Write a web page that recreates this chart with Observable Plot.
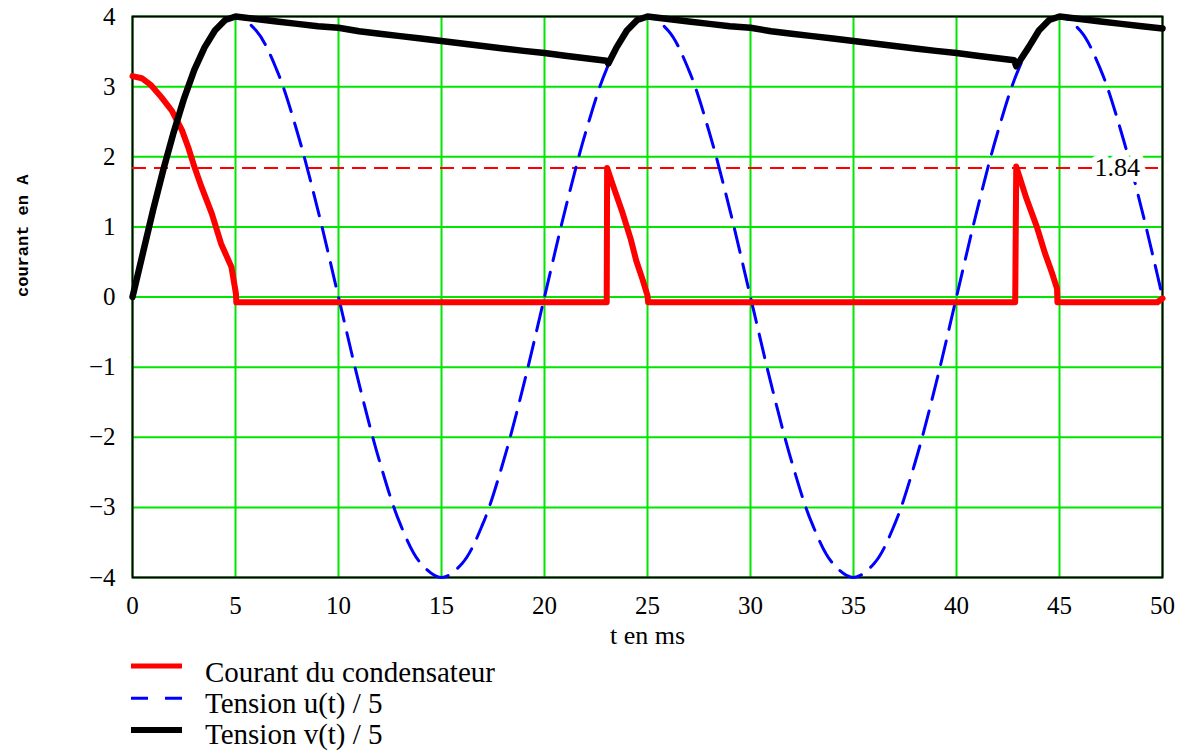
<!DOCTYPE html>
<html>
<head>
<meta charset="utf-8">
<script src="https://cdn.jsdelivr.net/npm/d3@7"></script>
<script src="https://cdn.jsdelivr.net/npm/@observablehq/plot@0.6"></script>
<style>
  body { margin: 0; background: #fff; width: 1189px; height: 753px; overflow: hidden; }
  #chart svg { display: block; font-family: 'Liberation Serif', 'Times New Roman', serif; }
  #legend { display: block; }
</style>
</head>
<body>
<div id="chart"></div>
<svg id="legend" width="1189" height="103"></svg>
<script>
// ---- data ----
const tickX = [0, 5, 10, 15, 20, 25, 30, 35, 40, 45, 50];
const tickY = [-4, -3, -2, -1, 0, 1, 2, 3, 4];

// Tension u(t) / 5 (blue dashed)
const tBlue = [0,1,2,3,4,5,6,7,8,9,10,11,12,13,14,15,16,17,18,19,20,21,22,23,24,25,26,27,28,29,30,31,32,33,34,35,36,37,38,39,40,41,42,43,44,45,46,47,48,49,50];
const uBlue = [0,1.24,2.35,3.24,3.80,4.00,3.80,3.24,2.35,1.24,0,-1.24,-2.35,-3.24,-3.80,-4.00,-3.80,-3.24,-2.35,-1.24,0,1.24,2.35,3.24,3.80,4.00,3.80,3.24,2.35,1.24,0,-1.24,-2.35,-3.24,-3.80,-4.00,-3.80,-3.24,-2.35,-1.24,0,1.24,2.35,3.24,3.80,4.00,3.80,3.24,2.35,1.24,0];

// Courant du condensateur (red)
const tRed = [0,0.45,0.9,1.4,1.9,2.4,2.7,3.0,3.35,3.85,4.3,4.8,5.02,5.04, 23.02,23.04,23.35,23.8,24.2,24.45,24.77,25.0,25.03, 42.85,42.9,43.4,43.9,44.3,44.65,44.88,44.9, 49.75,50];
const iRed = [3.15,3.12,3.02,2.85,2.66,2.38,2.14,1.86,1.57,1.19,0.76,0.43,0.05,-0.075, -0.075,1.84,1.57,1.19,0.81,0.52,0.24,0.02,-0.075, -0.075,1.86,1.40,1.00,0.62,0.33,0.12,-0.075, -0.075,-0.02];

// Tension v(t) / 5 (black)
const tBlack = [0,0.5,1,1.5,2,2.5,3,3.5,4,4.5,5,6,7,8,9,10,11,12,13,14,15,16,17,18,19,20,21,22,23,23.1,23.5,24,24.5,25,26,27,28,29,30,31,32,33,34,35,36,37,38,39,40,41,42,42.8,42.9,43.5,44,44.5,45,46,47,48,49,50];
const vBlack = [0,0.62,1.24,1.82,2.35,2.83,3.24,3.56,3.80,3.95,4.00,3.965,3.93,3.895,3.86,3.84,3.79,3.755,3.72,3.685,3.65,3.615,3.58,3.545,3.51,3.48,3.44,3.405,3.37,3.33,3.56,3.80,3.95,4.00,3.965,3.93,3.895,3.86,3.84,3.79,3.755,3.72,3.685,3.65,3.615,3.58,3.545,3.51,3.48,3.44,3.405,3.375,3.29,3.56,3.80,3.95,4.00,3.965,3.93,3.895,3.86,3.83];

const peakLevel = [1.84];
const peakLabel = [{t: 47.8, v: 1.84, s: "1.84"}];

const xTitle = "t en ms";
const yTitle = "courant en A";

const legendLabels = ["Courant du condensateur", "Tension u(t) / 5", "Tension v(t) / 5"];
const legendColors = ["#ff0000", "#0000ff", "#000000"];
const legendDash = ["none", "17,17", "none"];
const legendWidth = [5, 3, 6];

// ---- build ----
const blue = tBlue.map((t, i) => ({t, v: uBlue[i]}));
const red = tRed.map((t, i) => ({t, v: iRed[i]}));
const black = tBlack.map((t, i) => ({t, v: vBlack[i]}));

const green = "#00e600";
const serif = "'Liberation Serif', 'Times New Roman', serif";
const fmt = d3.format("d");

const chart = Plot.plot({
  width: 1189,
  height: 650,
  marginLeft: 132,
  marginRight: 27,
  marginTop: 16,
  marginBottom: 73,
  x: {domain: [0, 50]},
  y: {domain: [-4, 4]},
  style: `font-family: ${serif}; font-size: 25px; background: #fff; color: #000; overflow: visible;`,
  marks: [
    Plot.gridX(tickX, {stroke: green, strokeOpacity: 1, strokeWidth: 2}),
    Plot.gridY(tickY, {stroke: green, strokeOpacity: 1, strokeWidth: 2}),
    Plot.frame({stroke: "#000", strokeWidth: 2}),
    Plot.axisX(tickX, {tickSize: 0, tickPadding: 19, label: null, fontSize: 25, fontFamily: serif, tickFormat: fmt}),
    Plot.axisY(tickY, {tickSize: 0, tickPadding: 17, label: null, fontSize: 25, fontFamily: serif, tickFormat: fmt}),
    Plot.ruleY(peakLevel, {stroke: "#ff0000", strokeWidth: 2, strokeDasharray: "14,8"}),
    Plot.line(blue, {x: "t", y: "v", stroke: "#0000ff", strokeWidth: 3, strokeDasharray: "24,12", curve: "catmull-rom"}),
    Plot.text(peakLabel, {x: "t", y: "v", text: "s", fontSize: 26, fontFamily: serif, fill: "#000", stroke: "#fff", strokeWidth: 12, paintOrder: "stroke", lineAnchor: "middle"}),
    Plot.line(red, {x: "t", y: "v", stroke: "#ff0000", strokeWidth: 6, strokeLinejoin: "round"}),
    Plot.line(black, {x: "t", y: "v", stroke: "#000", strokeWidth: 6.5, strokeLinejoin: "round"}),
    Plot.text([xTitle], {frameAnchor: "bottom", dy: 58, lineAnchor: "middle", fontSize: 26, fontFamily: serif}),
    Plot.text([yTitle], {frameAnchor: "left", rotate: -90, dx: -110, fontFamily: "'Liberation Mono', monospace", fontSize: 17, fontWeight: "bold"})
  ]
});
document.getElementById("chart").appendChild(chart);

// legend below the chart
const leg = d3.select("#legend");
const lineY = [16, 48.3, 80];
const textY = [32, 63.3, 94];
legendLabels.forEach((lab, i) => {
  leg.append("line")
    .attr("x1", 131).attr("x2", 182)
    .attr("y1", lineY[i]).attr("y2", lineY[i])
    .attr("stroke", legendColors[i])
    .attr("stroke-width", legendWidth[i])
    .attr("stroke-dasharray", legendDash[i]);
  leg.append("text")
    .attr("x", 205).attr("y", textY[i])
    .attr("font-family", serif)
    .attr("font-size", 29)
    .attr("fill", "#000")
    .text(lab);
});
</script>
</body>
</html>
